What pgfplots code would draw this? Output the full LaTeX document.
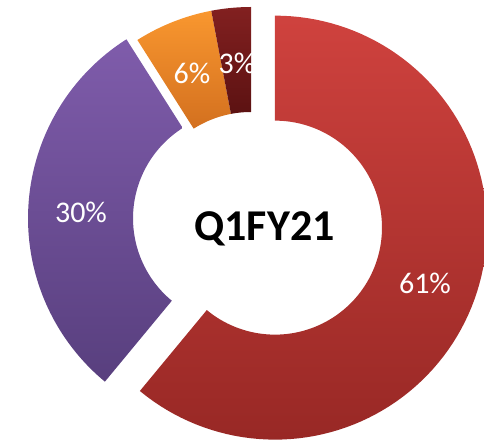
\documentclass[border=0pt]{standalone}
\usepackage{pgfplots}
\usepackage{pgfplotstable}
\pgfplotsset{compat=1.18}
\usepackage{fontspec}
\setmainfont{Carlito}

\definecolor{redT}{HTML}{CF423E}
\definecolor{redB}{HTML}{982825}
\definecolor{purT}{HTML}{7F5CAB}
\definecolor{purB}{HTML}{583F7E}
\definecolor{orgT}{HTML}{F9972F}
\definecolor{orgB}{HTML}{D3701F}
\definecolor{drkT}{HTML}{822020}
\definecolor{drkB}{HTML}{5C1212}

% share (%), explode offset (px)
\pgfplotstableread{
share explode
61 25.5
30 11
6 0
3 0
}\donut
\pgfplotstablegetelem{0}{share}\of\donut \edef\sA{\pgfplotsretval}
\pgfplotstablegetelem{1}{share}\of\donut \edef\sB{\pgfplotsretval}
\pgfplotstablegetelem{2}{share}\of\donut \edef\sC{\pgfplotsretval}
\pgfplotstablegetelem{3}{share}\of\donut \edef\sD{\pgfplotsretval}
\pgfplotstablegetelem{0}{explode}\of\donut \edef\eA{\pgfplotsretval}
\pgfplotstablegetelem{1}{explode}\of\donut \edef\eB{\pgfplotsretval}
\pgfplotstablegetelem{2}{explode}\of\donut \edef\eC{\pgfplotsretval}
\pgfplotstablegetelem{3}{explode}\of\donut \edef\eD{\pgfplotsretval}

% #1 cumulative share before, #2 share, #3 explode, #4 options
\newcommand{\slice}[4]{%
\addplot[draw=none, #4, domain=0:201, samples=202, variable=\t]
 ({251+#3*cos(90-3.6*(#1+#2/2)) + ifthenelse(\t<100.5, 212*cos(90-3.6*(#1+#2*\t/100)), 107*cos(90-3.6*(#1+#2*(201-\t)/100)))},
  {223+#3*sin(90-3.6*(#1+#2/2)) + ifthenelse(\t<100.5, 212*sin(90-3.6*(#1+#2*\t/100)), 107*sin(90-3.6*(#1+#2*(201-\t)/100)))});
}

\begin{document}
\begin{tikzpicture}
\begin{axis}[width=484pt, height=442pt, scale only axis,
  xmin=0, xmax=484, ymin=0, ymax=442, hide axis, clip=true]
\path (rel axis cs:0,0) rectangle (rel axis cs:1,1);
\pgfmathsetmacro{\cB}{\sA}
\pgfmathsetmacro{\cC}{\sA+\sB}
\pgfmathsetmacro{\cD}{\sA+\sB+\sC}
\slice{0}{\sA}{\eA}{top color=redT, bottom color=redB}
\slice{\cB}{\sB}{\eB}{top color=purT, bottom color=purB}
\slice{\cC}{\sC}{\eC}{top color=orgT, bottom color=orgB}
\slice{\cD}{\sD}{\eD}{top color=drkT, bottom color=drkB}
\node[text=white, font=\fontsize{30}{30}\selectfont] at (axis cs:425,158.5) {61\%};
\node[text=white, font=\fontsize{30}{30}\selectfont] at (axis cs:81,230) {30\%};
\node[text=white, font=\fontsize{30}{30}\selectfont] at (axis cs:192,369) {6\%};
\node[text=white, font=\fontsize{30}{30}\selectfont] at (axis cs:237,379) {3\%};
\node[text=black, font=\fontsize{44}{44}\selectfont\bfseries] at (axis cs:264.5,213) {Q1FY21};
\end{axis}
\end{tikzpicture}
\end{document}
